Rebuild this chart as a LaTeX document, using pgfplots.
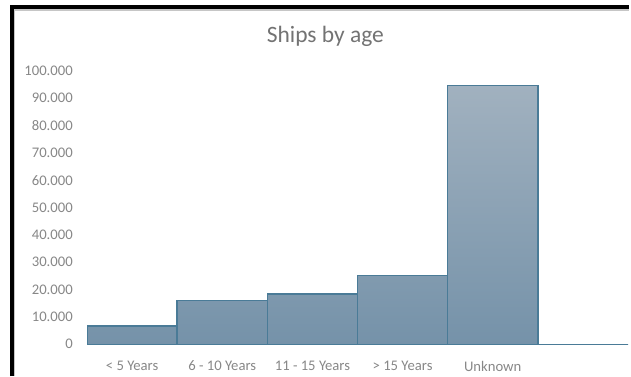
\documentclass[border=0pt]{standalone}
\usepackage{fontspec}
\setmainfont{Carlito}
\usepackage{pgfplots}
\pgfplotsset{compat=1.18}

\definecolor{barTop}{HTML}{A1B1BF}
\definecolor{barBottom}{HTML}{7592A9}
\definecolor{barEdge}{HTML}{4A7B97}
\definecolor{labelGray}{HTML}{878787}
\definecolor{titleGray}{HTML}{737373}

\begin{document}
\begin{tikzpicture}
  % canvas: 631 x 376 px at 0.75pt per px
  \path[use as bounding box] (0pt,0pt) rectangle (473.25pt,282pt);
  % frame edges
  \draw[line width=1pt, gray!45] (10.6pt,0pt) -- (10.6pt,274.6pt) -- (471.75pt,274.6pt);
  \draw[line width=2.6pt, black] (9pt,0pt) -- (9pt,276.75pt) -- (471.75pt,276.75pt);
  % title
  \node[text=titleGray, font=\fontsize{17.6}{20}\selectfont, anchor=base] at (244pt,250.5pt) {Ships by age};

  \begin{axis}[
    at={(65.25pt,23.8pt)}, anchor=south west,
    scale only axis,
    width=405.75pt, height=205pt,
    xmin=-0.5, xmax=5.5,
    ymin=0, ymax=100000,
    axis line style={draw=none},
    major tick length=0pt,
    xtick={0,1,2,3,4,5},
    xticklabels={{< 5 Years},{6 - 10 Years},{11 - 15 Years},{> 15 Years},{Unknown},{}},
    ytick={0,10000,20000,30000,40000,50000,60000,70000,80000,90000,100000},
    scaled y ticks=false,
    yticklabel={\pgfmathprintnumber[fixed, precision=0, 1000 sep={.}, assume math mode=true]{\tick}},
    tick label style={text=labelGray, font=\fontsize{11}{13}\selectfont},
    yticklabel style={anchor=east, inner sep=0pt, xshift=-10.5pt},
    xticklabel style={anchor=center, inner sep=0pt, yshift=-16.3pt},
  ]
    \addplot[ybar, bar width=1, draw=barEdge, line width=1.1pt,
             top color=barTop, bottom color=barBottom]
      coordinates {(0,6700) (1,16000) (2,18400) (3,25100) (4,94600) (5,0)};
  \end{axis}
\end{tikzpicture}
\end{document}
